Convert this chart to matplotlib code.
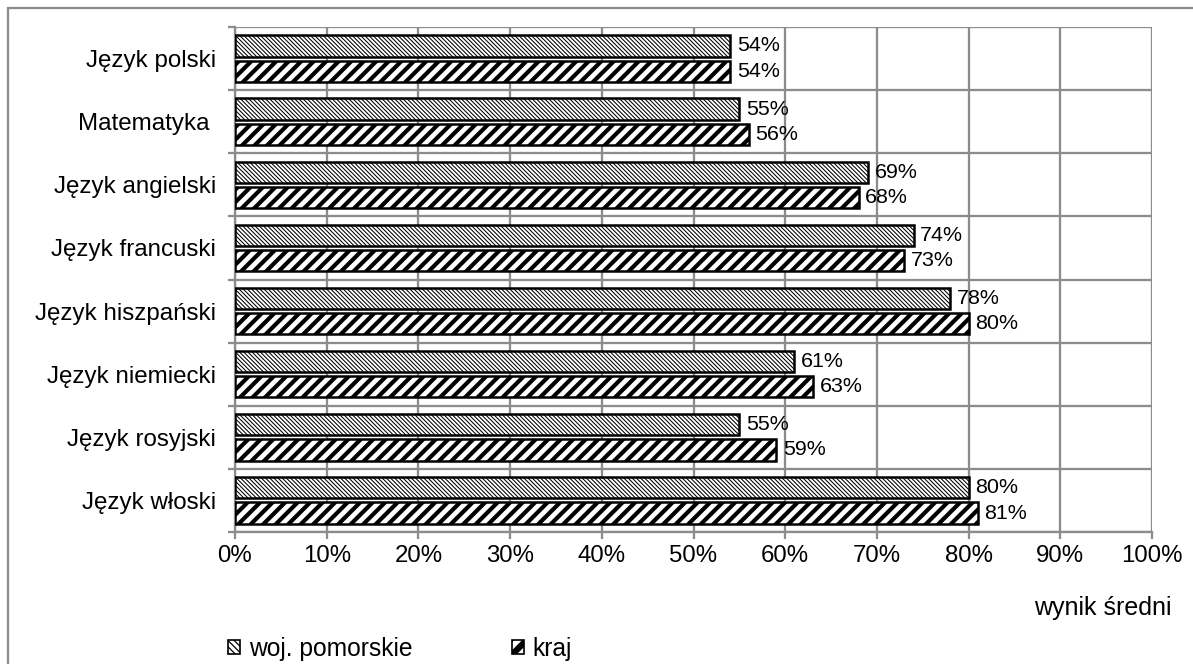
import matplotlib
matplotlib.use("Agg")
import matplotlib.pyplot as plt
from matplotlib.patches import Patch, Rectangle
from matplotlib.ticker import FixedLocator, PercentFormatter
import numpy as np

categories = ["Język polski", "Matematyka ", "Język angielski", "Język francuski",
              "Język hiszpański", "Język niemiecki", "Język rosyjski", "Język włoski"]
pomorskie = [54, 55, 69, 74, 78, 61, 55, 80]
kraj = [54, 56, 68, 73, 80, 63, 59, 81]
series_names = ["woj. pomorskie", "kraj"]
x_ticks = [0, 10, 20, 30, 40, 50, 60, 70, 80, 90, 100]
x_title = "wynik średni"

plt.rcParams['font.family'] = ['Liberation Sans', 'DejaVu Sans']

DPI = 150
fig = plt.figure(figsize=(1193 / DPI, 664 / DPI), dpi=DPI)
ax = fig.add_axes([235 / 1193, 1 - 532 / 664, (1152 - 235) / 1193, (532 - 27) / 664])

grid_c = "#8c8c8c"
n = len(categories)
y = np.arange(n)[::-1].astype(float)
h = 0.335
off = 0.2

H1 = "\\" * 12
H2 = "////"
LW1 = 0.5
LW2 = 2.0


def set_hlw(patches, lw):
    for p in patches:
        try:
            p.set_hatch_linewidth(lw)
        except Exception:
            pass


plt.rcParams['hatch.linewidth'] = LW1
b1 = ax.barh(y + off, pomorskie, height=h, color="white", edgecolor="black",
             linewidth=1.2, hatch=H1, zorder=3)
set_hlw(b1, LW1)
plt.rcParams['hatch.linewidth'] = LW2
b2 = ax.barh(y - off, kraj, height=h, color="white", edgecolor="black",
             linewidth=1.2, hatch=H2, zorder=3)
set_hlw(b2, LW2)

for bars, vals in ((b1, pomorskie), (b2, kraj)):
    for rect, v in zip(bars, vals):
        ax.annotate(f"{v}%", (v, rect.get_y() + rect.get_height() / 2),
                    xytext=(3.2, 0), textcoords="offset points",
                    ha="left", va="center", fontsize=10.3, zorder=4)

ax.set_xlim(0, 100)
ax.set_ylim(-0.5, n - 0.5)
ax.xaxis.set_major_locator(FixedLocator(x_ticks))
ax.xaxis.set_major_formatter(PercentFormatter(decimals=0))
ax.set_yticks(y)
ax.set_yticklabels(categories)
ax.yaxis.set_minor_locator(FixedLocator(np.arange(-0.5, n, 1.0)))

ax.tick_params(axis="y", which="major", length=0, pad=9, labelsize=11.6)
ax.tick_params(axis="y", which="minor", length=3.5, width=1.1, color=grid_c, direction="out")
ax.tick_params(axis="x", which="major", length=3.5, width=1.1, color=grid_c,
               direction="out", pad=2.5, labelsize=11.5)

ax.grid(axis="x", which="major", color=grid_c, linewidth=1.1, zorder=0)
ax.grid(axis="y", which="minor", color=grid_c, linewidth=1.1, zorder=0)
ax.set_axisbelow(True)
for s in ["top", "right"]:
    ax.spines[s].set_visible(False)
for s in ["left", "bottom"]:
    ax.spines[s].set_color(grid_c)
    ax.spines[s].set_linewidth(1.1)

fig.text(1103 / 1193, 1 - 608 / 664, x_title, ha="center", va="center", fontsize=12)

plt.rcParams['hatch.linewidth'] = 0.6
h1 = Patch(facecolor="white", edgecolor="black", hatch="\\" * 8, linewidth=0.8, label=series_names[0])
h2 = Patch(facecolor="white", edgecolor="black", hatch="///", linewidth=0.8, label=series_names[1])
leg = fig.legend(handles=[h1, h2], loc="center left", bbox_to_anchor=(228 / 1193, 1 - 649 / 664),
                 ncol=2, frameon=False, fontsize=11.8, handlelength=0.5, handleheight=0.5,
                 handletextpad=0.35, columnspacing=4.05, borderaxespad=0, borderpad=0)
lhs = getattr(leg, "legend_handles", None) or getattr(leg, "legendHandles", [])
for lh, lw in zip(lhs, [0.6, 3.0]):
    set_hlw([lh], lw)

# outer chart frame (left and top edges visible)
fig.patches.append(Rectangle((8 / 1193, -0.1), 1.2, (1 - 8 / 664) + 0.1, transform=fig.transFigure,
                             fill=False, edgecolor=grid_c, linewidth=1.1))

fig.savefig("out.png", dpi=DPI)
